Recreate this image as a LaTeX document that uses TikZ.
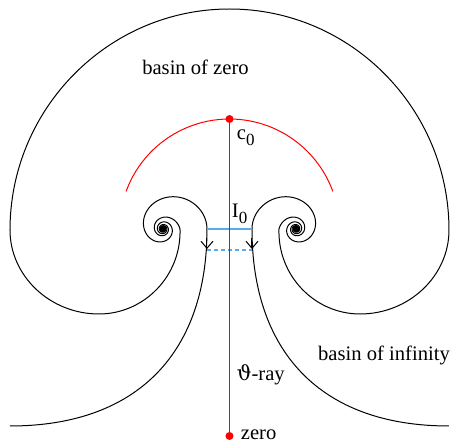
\documentclass[tikz,border=0pt]{standalone}
\usepackage{fontspec}
\setmainfont{Liberation Serif}
\newfontfamily\greekfont{DejaVu Serif}
\usetikzlibrary{arrows.meta}
\definecolor{skyline}{RGB}{90,170,240}
\newcommand\lowsub[1]{\raisebox{-3pt}{\fontsize{8.5}{9}\selectfont #1}}

\begin{document}
\begin{tikzpicture}[x=0.5pt,y=-0.5pt,>={Straight Barb[length=3.5pt,width=6pt]},
  boundary/.style={black,line width=0.5pt},
  ray/.style={red,line width=0.5pt},
  every node/.style={font=\fontsize{10.3}{12}\selectfont,inner sep=0pt}]
  \useasboundingbox (-229.5,0) rectangle (222.5,443);

  % one half of the Julia set boundary, then its mirror image
  \foreach \s in {1,-1}{
    \begin{scope}[xscale=\s]
      % two interlaced spirals round the repelling point
      \draw[boundary] plot[domain=0:40,samples=900]
        ({-66.5+44/(1+0.35*(\x-1+exp(-\x)))^1.5*cos(\x r)},
         {229-44/(1+0.35*(\x-1+exp(-\x)))^1.5*sin(\x r)});
      \draw[boundary] plot[domain=0:40,samples=900]
        ({-66.5+44/(1+0.35*(\x+2.5+exp(-\x-3.5)))^1.5*cos(\x r)},
         {229-44/(1+0.35*(\x+2.5+exp(-\x-3.5)))^1.5*sin(\x r)});
      % inner branch down to the bottom
      \draw[boundary] (-22.5,229)
        .. controls (-22.5,350) and (-89.5,426) .. (-219.5,426);
      \draw[boundary,->] (-22.5,238) -- (-22.5,249);
      % outer lobe up to the top
      \draw[boundary] (-49.5,229)
        .. controls (-48,276) and (-85.5,314) .. (-130.5,314)
        .. controls (-179.5,314) and (-219.5,276) .. (-219.5,230)
        .. controls (-219.5,109) and (-121.5,9) .. (0,9);
    \end{scope}}

  \coordinate (Ileft) at (-22.5,229);
  \coordinate (Iright) at (22.5,229);
  \coordinate (Jleft) at (-22.5,250);
  \coordinate (Jright) at (22.5,250);
  \draw[skyline,line width=0.6pt] (Ileft) -- (Iright);
  \draw[skyline,line width=0.6pt,dash pattern=on 2pt off 1.5pt] (Jleft) -- (Jright);

  \coordinate (c0) at (0,119);
  \coordinate (zero) at (0,436);
  \draw[ray] (-103.4,191.4) arc[start angle=-160,end angle=-20,radius=110];
  \draw[ray] (c0) -- (zero);
  \fill[red] (c0) circle[radius=4];
  \fill[red] (zero) circle[radius=4];

  \node[anchor=base] (lblZero) at (-34,75) {basin of zero};
  \node[anchor=base west] (lblC0) at (7,140) {c\lowsub{0}};
  \node[anchor=base west] (lblI0) at (2,218) {I\lowsub{0}};
  \node[anchor=base] (lblInf) at (154.5,361) {basin of infinity};
  \node[anchor=base west] (lblRay) at (7,381) {{\greekfont ϑ}-ray};
  \node[anchor=base west] (lblZeroPt) at (11,440) {zero};
\end{tikzpicture}
\end{document}
